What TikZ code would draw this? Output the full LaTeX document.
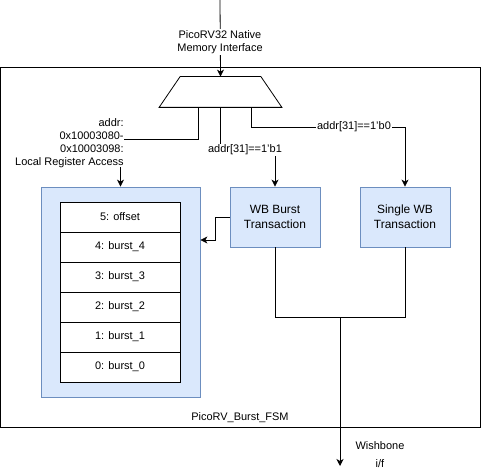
\documentclass[tikz,border=0pt]{standalone}
\usepackage{fontspec}
\setmainfont{Liberation Sans}
\usetikzlibrary{positioning, arrows, arrows.meta}
\tikzset{
    block/.style={
           rectangle,
           draw=blueline, fill=bluefill,
           text centered,
           inner sep=2pt,
           },
    regrow/.style={
           rectangle,
           draw=black, fill=white,
           minimum width=120bp, minimum height=30bp,
           font=\fontsize{11}{13}\selectfont,
           },
    lbl/.style={
           fill=white, inner sep=1pt,
           font=\fontsize{11}{13.5}\selectfont,
           },
}
\definecolor{bluefill}{HTML}{DAE8FC}
\definecolor{blueline}{HTML}{6C8EBF}

\begin{document}
\begin{tikzpicture}[x=1bp, y=-1bp, >={Stealth[length=7bp, width=7bp, inset=2bp]}, line width=0.8bp]
  \useasboundingbox (0,0) rectangle (481,476);
  % outer FSM box
  \node[draw, minimum width=479.5bp, minimum height=360bp, inner sep=0] (fsm) at (240.25,247) {};
  \node[font=\fontsize{11}{13}\selectfont] (fsmname) at (240,418) {PicoRV\_Burst\_FSM};

  % address decoder
  \node[minimum width=122bp, minimum height=30bp, inner sep=0] (mux) at (220.5,92) {};
  \draw (mux.south west) -- ([xshift=21bp]mux.north west)
        -- ([xshift=-21bp]mux.north east) -- (mux.south east) -- cycle;
  \coordinate (cpu) at (220,0);
  \draw[->] (cpu) -- (mux.north);
  \node[lbl, align=center] (cpulbl) at (220,42) {PicoRV32 Native\\Memory Interface};

  % register file
  \node[block, minimum width=159bp, minimum height=210bp] (regs) at (120.5,292) {};
  \foreach \i/\name in {0/5: offset, 1/4: burst\_4, 2/3: burst\_3, 3/2: burst\_2, 4/1: burst\_1, 5/0: burst\_0}
    \node[regrow] (row\i) at (120,217+30*\i) {\name};

  % wishbone transactions
  \node[block, minimum width=90bp, minimum height=60bp, align=center,
        font=\fontsize{12}{15}\selectfont] (wbb) at (275,217) {WB Burst\\Transaction};
  \node[block, minimum width=90bp, minimum height=60bp, align=center,
        font=\fontsize{12}{15}\selectfont] (sgl) at (405,217) {Single WB\\Transaction};

  % local register access
  \node[align=right, anchor=east, inner sep=0,
        font=\fontsize{11}{13}\selectfont] (lra) at (124,143.5)
        {addr:\\0x10003080-\\0x10003098:\\Local Register Access};
  \draw ([xshift=-22.5bp]mux.south) |- ([yshift=4.5bp]lra.east);
  \draw[->] (lra.south -| regs.north) ++(0,-1) -- (regs.north);

  % burst path
  \draw[->] (mux.south) -- ++(0,43) -| (wbb.north);
  \node[lbl] (b1lbl) at (245,150) {addr[31]==1'b1};

  % single path
  \draw[->] ([xshift=30.5bp]mux.south) -- ++(0,20) -| (sgl.north);
  \node[lbl] (b0lbl) at (354,127) {addr[31]==1'b0};

  % burst writes registers
  \draw[->] (wbb.west) -- ++(-14,0) |- (regs.east |- 0,240);

  % merge to wishbone
  \draw (wbb.south) -- ++(0,70) -| (sgl.south);
  \coordinate (mrg) at (340,317);
  \coordinate (wbout) at (340,466);
  \draw[->] (mrg) -- (wbout);
  \node[font=\fontsize{11}{13}\selectfont, align=center] (wblbl) at (380,455) {Wishbone\\[5bp]i/f};
\end{tikzpicture}
\end{document}
